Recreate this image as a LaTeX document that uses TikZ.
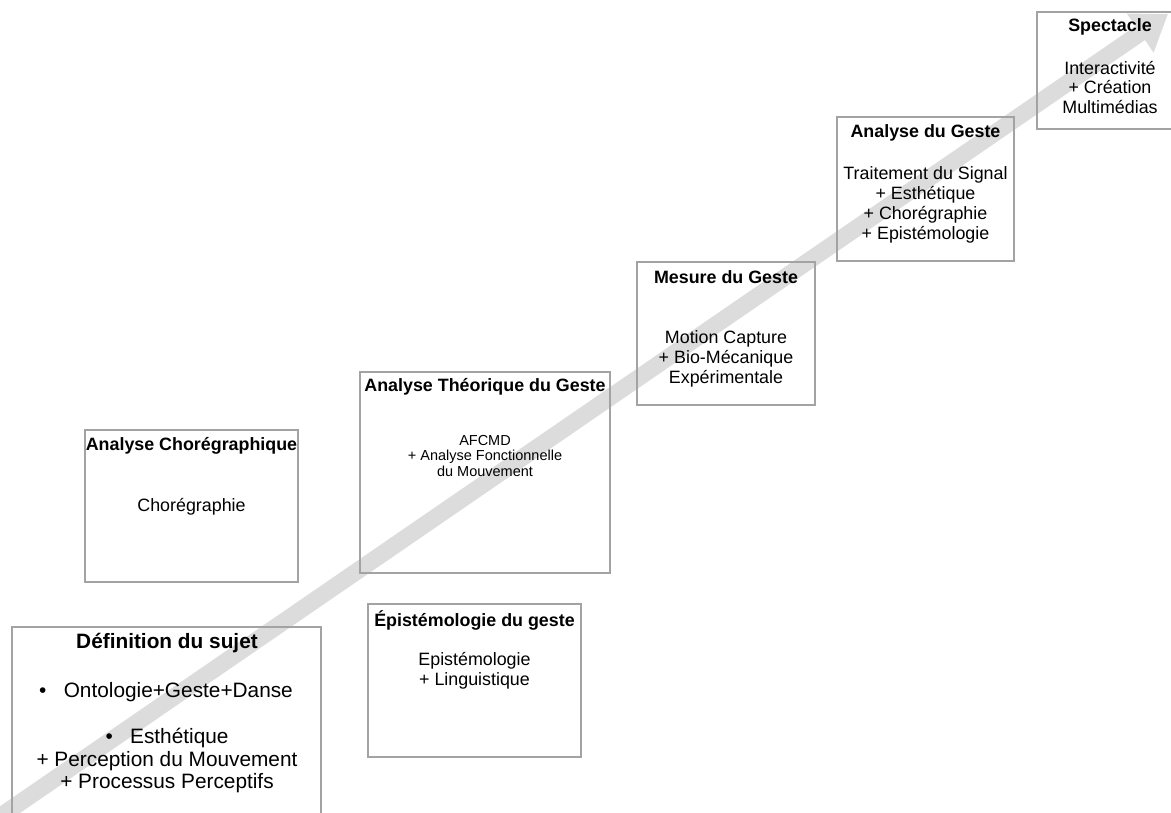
\documentclass[tikz,border=0pt]{standalone}
\usepackage{fontspec}
\setmainfont{Liberation Sans}
\usetikzlibrary{arrows.meta}
\definecolor{framegray}{HTML}{A3A3A3}
\definecolor{trendgray}{HTML}{DCDCDC}
\tikzset{
  stage/.style={draw=framegray,line width=0.9pt,inner sep=0pt},
  stagehead/.style={font=\bfseries\fontsize{12.7}{15}\selectfont,inner sep=0pt},
  stagebody/.style={font=\fontsize{12.7}{14.2}\selectfont,align=center,inner sep=0pt},
  trend/.style={draw=trendgray,line width=12pt,-{Triangle[length=24pt,width=32pt]}}
}

\begin{document}
\begin{tikzpicture}[x=0.025cm,y=-0.025cm]
  % drawing parameters
  \pgfmathsetmacro{\u}{0.025} % one pixel of the reference, in cm

  \useasboundingbox (0,0) rectangle (1171,813);

  % the rising arrow behind the stages
  \coordinate (tail) at (-8,822);
  \coordinate (tip) at (1168,14);
  \draw [trend] (tail) -- (tip);

  % first stage
  \node [stage,minimum width=309*\u cm,minimum height=210*\u cm] (sujet) at (166.5,732) {};
  \node [stagehead,font=\bfseries\fontsize{14.8}{17}\selectfont] (sujetT) at (167,643) {Définition du sujet};
  \node [stagebody,font=\fontsize{14.8}{16}\selectfont] (sujetA) at (166,692) {•\ \ \ Ontologie+Geste+Danse};
  \node [stagebody,font=\fontsize{14.8}{16}\selectfont] (sujetB) at (167,760.5) {•\ \ \ Esthétique\\+ Perception du Mouvement\\+ Processus Perceptifs};

  % second stage
  \node [stage,minimum width=213*\u cm,minimum height=152*\u cm] (choreo) at (191.5,506) {};
  \node [stagehead] (choreoT) at (191.5,446) {Analyse Chorégraphique};
  \node [stagebody] (choreoB) at (191.5,507) {Chorégraphie};

  % third stage
  \node [stage,minimum width=250*\u cm,minimum height=201*\u cm] (theorie) at (485,472.5) {};
  \node [stagehead] (theorieT) at (485,387) {Analyse Théorique du Geste};
  \node [stagebody,font=\fontsize{10.3}{11.2}\selectfont] (theorieB) at (485,456) {AFCMD\\+ Analyse Fonctionnelle\\du Mouvement};

  % fourth stage
  \node [stage,minimum width=213*\u cm,minimum height=153*\u cm] (episteme) at (474.5,680.5) {};
  \node [stagehead] (episteT) at (474.5,620) {Épistémologie du geste};
  \node [stagebody] (episteB) at (474.5,671) {Epistémologie\\+ Linguistique};

  % fifth stage
  \node [stage,minimum width=178*\u cm,minimum height=143*\u cm] (mesure) at (726,333.5) {};
  \node [stagehead] (mesureT) at (726,277) {Mesure du Geste};
  \node [stagebody] (mesureB) at (726,359) {Motion Capture\\+ Bio-Mécanique\\Expérimentale};

  % sixth stage
  \node [stage,minimum width=177*\u cm,minimum height=144*\u cm] (geste) at (925.5,189) {};
  \node [stagehead] (gesteT) at (925.5,133) {Analyse du Geste};
  \node [stagebody] (gesteB) at (925.5,204.5) {Traitement du Signal\\+ Esthétique\\+ Chorégraphie\\+ Epistémologie};

  % last stage
  \node [stage,minimum width=146*\u cm,minimum height=117*\u cm] (spectacle) at (1110,70.5) {};
  \node [stagehead] (spectacleT) at (1110,27) {Spectacle};
  \node [stagebody] (spectacleB) at (1110,87.5) {Interactivité\\+ Création\\Multimédias};
\end{tikzpicture}
\end{document}
